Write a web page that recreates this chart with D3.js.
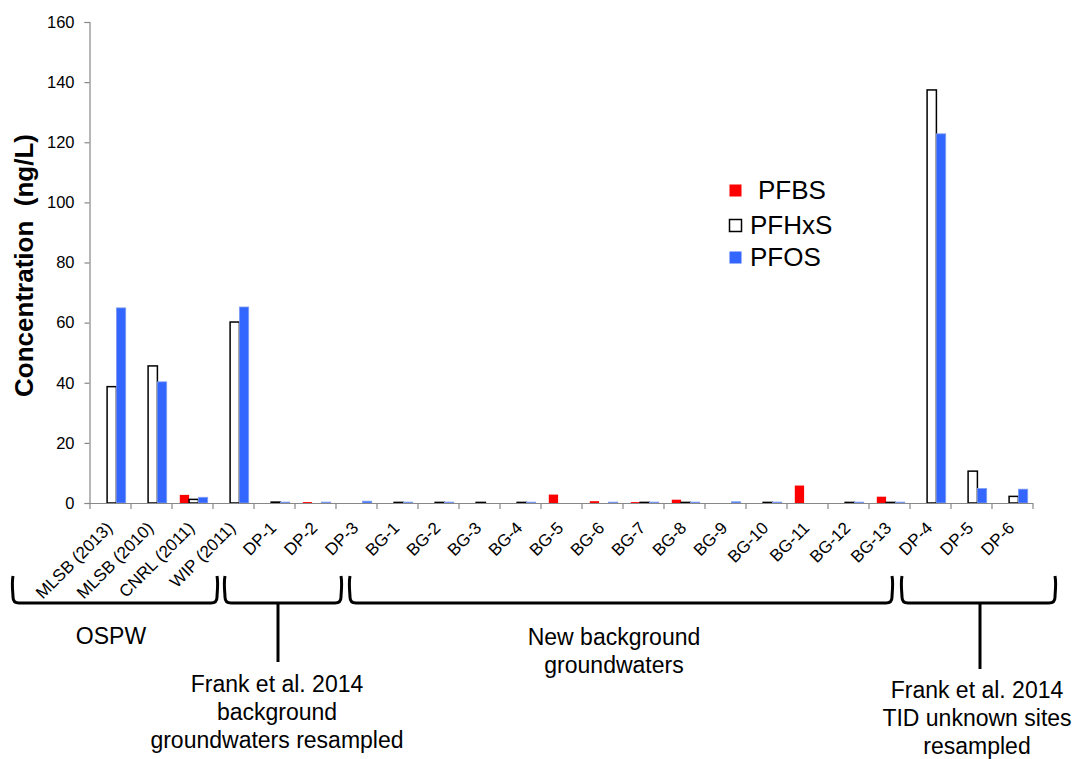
<!DOCTYPE html>
<html>
<head>
<meta charset="utf-8">
<script src="https://cdn.jsdelivr.net/npm/d3@7"></script>
<style>
  html, body { margin: 0; padding: 0; background: #fff; }
  svg { display: block; font-family: "Liberation Sans", Arial, sans-serif; }
</style>
</head>
<body>
<svg id="chart" width="1081" height="759"></svg>
<script>
// ---- data ----
const categories = ["MLSB (2013)", "MLSB (2010)", "CNRL (2011)", "WIP (2011)",
  "DP-1", "DP-2", "DP-3",
  "BG-1", "BG-2", "BG-3", "BG-4", "BG-5", "BG-6", "BG-7", "BG-8", "BG-9", "BG-10", "BG-11", "BG-12", "BG-13",
  "DP-4", "DP-5", "DP-6"];
const seriesNames = ["PFBS", "PFHxS", "PFOS"];
const pfbs  = [0, 0, 2.7, 0, 0, 0.3, 0, 0, 0, 0, 0, 2.8, 0.6, 0.3, 1.1, 0, 0, 5.8, 0, 2.1, 0, 0, 0];
const pfhxs = [38.7, 45.6, 1.2, 60.2, 0.3, 0, 0, 0.2, 0.2, 0.2, 0.2, 0, 0, 0.2, 0.2, 0, 0.2, 0, 0.2, 0.2, 137.4, 10.6, 2.2];
const pfos  = [64.9, 40.3, 1.9, 65.2, 0.3, 0.3, 0.6, 0.3, 0.3, 0, 0.3, 0, 0.3, 0.3, 0.3, 0.4, 0.3, 0, 0.3, 0.3, 122.8, 4.8, 4.6];
const yTicks = [0, 20, 40, 60, 80, 100, 120, 140, 160];
const yTitle = "Concentration  (ng/L)";
const groups = [
  { name: "OSPW", lines: ["OSPW"] },
  { name: "Frank1", lines: ["Frank et al. 2014", "background", "groundwaters resampled"] },
  { name: "New", lines: ["New background", "groundwaters"] },
  { name: "Frank2", lines: ["Frank et al. 2014", "TID unknown sites", "resampled"] }
];

// ---- layout ----
const W = 1081, H = 759;
const x0 = 90, x1 = 1033, yTop = 22, yBase = 503;
const colors = { PFBS: "#ff0000", PFHxS: "#ffffff", PFOS: "#3366ff" };

const svg = d3.select("#chart");
svg.append("rect").attr("width", W).attr("height", H).attr("fill", "#fff");

const x = d3.scaleBand().domain(categories).range([x0, x1]).padding(0);
const step = x.step();
const xs = d3.scaleBand().domain(seriesNames).range([7.8, 7.8 + 3 * 9.3]).padding(0);
const y = d3.scaleLinear().domain([0, 160]).range([yBase, yTop]);

const seriesData = { PFBS: pfbs, PFHxS: pfhxs, PFOS: pfos };
const rows = [];
seriesNames.forEach(s => {
  seriesData[s].forEach((v, i) => { if (v > 0) rows.push({ s, cat: categories[i], v }); });
});

// bars
svg.append("g").selectAll("rect").data(rows).join("rect")
  .attr("x", d => x(d.cat) + xs(d.s))
  .attr("y", d => y(d.v))
  .attr("width", xs.bandwidth())
  .attr("height", d => Math.max(0.5, yBase - y(d.v)))
  .attr("fill", d => colors[d.s])
  .attr("stroke", d => d.s === "PFHxS" ? "#000" : (d.s === "PFOS" ? "#7d9cf0" : "none"))
  .attr("stroke-width", d => d.s === "PFHxS" ? 1.5 : 0.8);

// y axis
const yAxis = svg.append("g").attr("transform", `translate(${x0 - 0.5},0)`)
  .call(d3.axisLeft(y).tickValues(yTicks).tickSize(5).tickPadding(10).tickFormat(d3.format("d")));
yAxis.attr("font-family", null).attr("font-size", null);
yAxis.select(".domain").attr("stroke", "#888").attr("stroke-width", 1.2);
yAxis.selectAll(".tick line").attr("stroke", "#888").attr("stroke-width", 1.2);
yAxis.selectAll(".tick text").attr("font-size", 16.5).attr("fill", "#000");

// x axis with boundary ticks
const xAxisG = svg.append("g");
xAxisG.append("line").attr("x1", x0 - 1).attr("x2", x1).attr("y1", yBase + 0.5).attr("y2", yBase + 0.5)
  .attr("stroke", "#888").attr("stroke-width", 1.2);
const bounds = categories.map(c => x(c)).concat([x(categories[categories.length - 1]) + step]);
xAxisG.selectAll("line.tk").data(bounds).join("line").attr("class", "tk")
  .attr("x1", d => d).attr("x2", d => d).attr("y1", yBase).attr("y2", yBase + 6)
  .attr("stroke", "#888").attr("stroke-width", 1.2);
xAxisG.selectAll("text").data(categories).join("text")
  .attr("transform", d => `translate(${x(d) + step / 2 + 3},${yBase + 26}) rotate(-45)`)
  .attr("text-anchor", "end")
  .attr("font-size", 17)
  .attr("fill", "#000")
  .text(d => d);

// y title
svg.append("text")
  .attr("transform", `translate(33,${(yTop + yBase) / 2 + 3}) rotate(-90)`)
  .attr("text-anchor", "middle")
  .attr("font-size", 26).attr("font-weight", "bold").attr("fill", "#000")
  .attr("xml:space", "preserve")
  .style("white-space", "pre")
  .text(yTitle);

// legend
const legend = svg.append("g");
const legendItems = [
  { s: "PFBS", ty: 184, tx: 758 },
  { s: "PFHxS", ty: 219, tx: 750 },
  { s: "PFOS", ty: 251, tx: 750 }
];
legendItems.forEach(it => {
  legend.append("rect").attr("x", 729.5).attr("y", it.ty + 0.5).attr("width", 12).attr("height", 12)
    .attr("fill", colors[it.s])
    .attr("stroke", it.s === "PFHxS" ? "#000" : "none").attr("stroke-width", 1.5);
  legend.append("text").attr("x", it.tx).attr("y", it.ty + 15)
    .attr("font-size", 26).attr("fill", "#000").text(it.s);
});

// braces
const braceTop = 576, braceBot = 603;
const braces = [
  { a: 13, b: 217, stem: null },
  { a: 225, b: 341, stem: 278, stemEnd: 662 },
  { a: 350, b: 892, stem: null },
  { a: 902, b: 1055, stem: 980, stemEnd: 669 }
];
const bg = svg.append("g").attr("fill", "none").attr("stroke", "#000").attr("stroke-width", 3);
braces.forEach(b => {
  const r = 6;
  bg.append("path").attr("d",
    `M${b.a},${braceTop} C${b.a - 1.5},${braceTop + 8} ${b.a},${braceBot - r - 4} ${b.a},${braceBot - r} Q${b.a},${braceBot} ${b.a + r},${braceBot}` +
    ` L${b.b - r},${braceBot} Q${b.b},${braceBot} ${b.b},${braceBot - r} C${b.b},${braceBot - r - 4} ${b.b + 1.5},${braceTop + 8} ${b.b},${braceTop}`);
  if (b.stem) bg.append("line").attr("x1", b.stem).attr("x2", b.stem).attr("y1", braceBot).attr("y2", b.stemEnd);
});

// group labels
const labelPos = [
  { cx: 111, y0: 644 },
  { cx: 277, y0: 692 },
  { cx: 614, y0: 645 },
  { cx: 977, y0: 698 }
];
const lineH = 28;
groups.forEach((g, i) => {
  const t = svg.append("text").attr("text-anchor", "middle").attr("font-size", 23).attr("fill", "#000");
  g.lines.forEach((ln, j) => {
    t.append("tspan").attr("x", labelPos[i].cx).attr("y", labelPos[i].y0 + j * lineH).text(ln);
  });
});
</script>
</body>
</html>
